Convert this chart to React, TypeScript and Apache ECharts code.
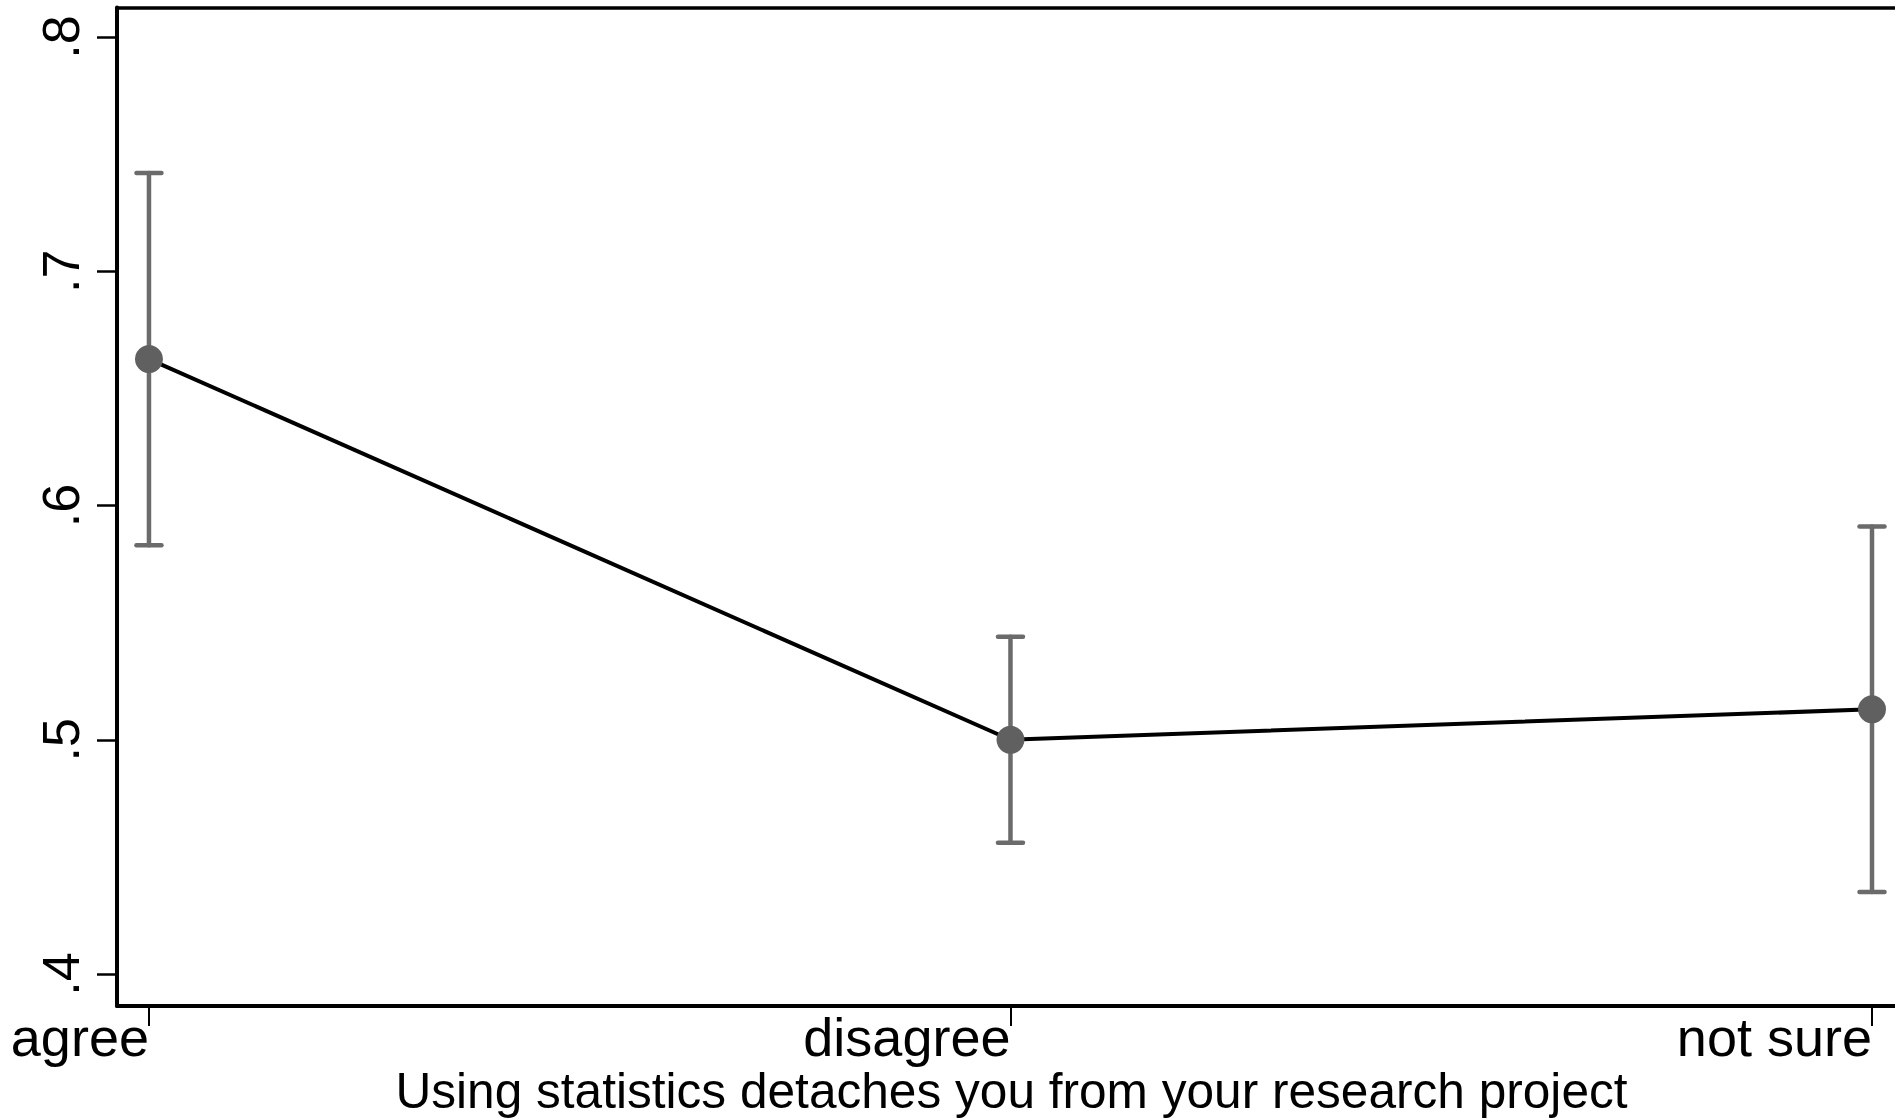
import React, { useEffect, useRef } from 'react';
import * as echarts from 'echarts';

const categories = ['agree', 'disagree', 'not sure'];
const xPositions = [1, 2, 3];
const means = [0.6625, 0.5, 0.513];
const ciUpper = [0.742, 0.544, 0.591];
const ciLower = [0.583, 0.456, 0.435];
const yTicks = [0.4, 0.5, 0.6, 0.7, 0.8];
const xAxisTitle = 'Using statistics detaches you from your research project';

const FONT = '"Liberation Sans", Arial, Helvetica, sans-serif';

export default function App() {
  const ref = useRef<HTMLDivElement>(null);
  useEffect(() => {
    document.body.style.margin = '0';
    const chart = echarts.init(ref.current as HTMLDivElement, null, { renderer: 'svg' });
    const X_MIN = 0.9629;
    const X_MAX = 3.0267;
    const option: any = {
      animation: false,
      backgroundColor: '#ffffff',
      grid: { left: 117, right: 0, top: 7.5, bottom: 113, containLabel: false, outerBoundsMode: 'none' },
      xAxis: [
        {
          type: 'value',
          min: X_MIN,
          max: X_MAX,
          position: 'bottom',
          axisLine: { show: true, onZero: false, lineStyle: { color: '#000', width: 4 } },
          axisTick: { show: true, customValues: xPositions, length: 20, lineStyle: { color: '#000', width: 2 } },
          axisLabel: {
            customValues: xPositions,
            formatter: (v: number) => {
              const i = xPositions.findIndex((x) => Math.abs(x - v) < 1e-6);
              return i >= 0 ? categories[i] : '';
            },
            align: 'right',
            margin: 4,
            fontSize: 54,
            color: '#000',
            fontFamily: FONT,
          },
          splitLine: { show: false },
          name: xAxisTitle,
          nameLocation: 'middle',
          nameGap: 60,
          nameMoveOverlap: false,
          nameTextStyle: { fontSize: 49.6, color: '#000', fontFamily: FONT, padding: [0, 0, 0, 11] },
        },
        {
          type: 'value',
          min: X_MIN,
          max: X_MAX,
          position: 'top',
          axisLine: { show: true, onZero: false, lineStyle: { color: '#000', width: 3.5 } },
          axisTick: { show: false },
          axisLabel: { show: false },
          splitLine: { show: false },
        },
      ],
      yAxis: {
        type: 'value',
        min: 0.38634,
        max: 0.8126,
        position: 'left',
        axisLine: { show: true, onZero: false, lineStyle: { color: '#000', width: 4 } },
        axisTick: { show: true, customValues: yTicks, length: 20, lineStyle: { color: '#000', width: 2.5 } },
        axisLabel: {
          customValues: yTicks,
          rotate: 90,
          margin: 30,
          formatter: (v: number) => v.toFixed(1).replace(/^0/, ''),
          fontSize: 52,
          color: '#000',
          fontFamily: FONT,
        },
        splitLine: { show: false },
      },
      series: [
        {
          type: 'custom',
          z: 1,
          data: xPositions.map((x, i) => [x, ciLower[i], ciUpper[i]]),
          encode: { x: 0, y: [1, 2] },
          renderItem: (params: any, api: any) => {
            const x = api.value(0);
            const lo = api.value(1);
            const hi = api.value(2);
            const pLo = api.coord([x, lo]);
            const pHi = api.coord([x, hi]);
            const half = 12.5;
            const style = { stroke: '#6b6b6b', lineWidth: 4.5, lineCap: 'round' };
            return {
              type: 'group',
              children: [
                { type: 'line', shape: { x1: pLo[0], y1: pLo[1], x2: pHi[0], y2: pHi[1] }, style },
                { type: 'line', shape: { x1: pHi[0] - half, y1: pHi[1], x2: pHi[0] + half, y2: pHi[1] }, style },
                { type: 'line', shape: { x1: pLo[0] - half, y1: pLo[1], x2: pLo[0] + half, y2: pLo[1] }, style },
              ],
            };
          },
        },
        {
          type: 'line',
          z: 2,
          data: xPositions.map((x, i) => [x, means[i]]),
          lineStyle: { color: '#000', width: 4 },
          symbol: 'circle',
          symbolSize: 28,
          itemStyle: { color: '#606060' },
          emphasis: { disabled: true },
        },
      ],
    };
    chart.setOption(option);
    return () => chart.dispose();
  }, []);
  return <div ref={ref} style={{ position: 'absolute', left: 0, top: 0, width: 1895, height: 1119 }} />;
}
